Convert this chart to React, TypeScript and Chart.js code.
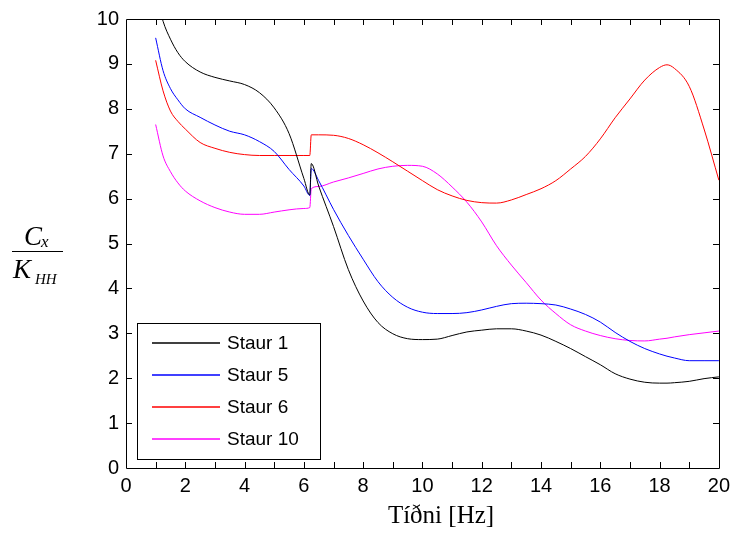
import React, { useEffect, useRef } from "react";
import { Chart, registerables } from "chart.js";

Chart.register(...registerables);

const freq = [1, 1.25, 1.5, 1.75, 2, 2.5, 3, 3.5, 4, 4.5, 5, 5.5, 6, 6.2, 6.25, 6.5, 7, 7.5, 8, 8.5, 9, 9.5, 10, 10.5, 11, 11.5, 12, 12.5, 13, 13.5, 14, 14.5, 15, 15.5, 16, 16.5, 17, 17.5, 18, 18.25, 18.5, 19, 19.5, 20];

const staur1 = [10.6, 9.95, 9.55, 9.25, 9.05, 8.82, 8.7, 8.62, 8.54, 8.36, 8.02, 7.45, 6.45, 6.08, 6.78, 6.28, 5.38, 4.42, 3.72, 3.24, 2.99, 2.88, 2.86, 2.87, 2.95, 3.03, 3.07, 3.1, 3.1, 3.05, 2.96, 2.82, 2.66, 2.48, 2.3, 2.1, 1.98, 1.91, 1.89, 1.89, 1.9, 1.93, 1.99, 2.03];
const staur5 = [9.58, 8.85, 8.45, 8.2, 8.0, 7.81, 7.64, 7.5, 7.42, 7.27, 7.05, 6.65, 6.28, 6.07, 6.67, 6.4, 5.76, 5.18, 4.65, 4.15, 3.8, 3.58, 3.47, 3.44, 3.44, 3.46, 3.52, 3.6, 3.66, 3.67, 3.66, 3.63, 3.54, 3.42, 3.25, 3.02, 2.82, 2.66, 2.54, 2.49, 2.45, 2.39, 2.39, 2.39];
const staur6 = [9.08, 8.4, 7.95, 7.72, 7.55, 7.25, 7.12, 7.03, 6.98, 6.96, 6.96, 6.96, 6.96, 6.96, 7.42, 7.42, 7.41, 7.34, 7.2, 7.02, 6.82, 6.61, 6.4, 6.2, 6.06, 5.96, 5.91, 5.9, 5.97, 6.09, 6.22, 6.4, 6.66, 6.94, 7.33, 7.8, 8.22, 8.64, 8.92, 8.98, 8.9, 8.5, 7.55, 6.41];
const staur10 = [7.65, 6.95, 6.6, 6.35, 6.17, 5.95, 5.8, 5.7, 5.65, 5.65, 5.7, 5.75, 5.78, 5.8, 6.22, 6.27, 6.37, 6.46, 6.56, 6.66, 6.72, 6.74, 6.72, 6.55, 6.26, 5.92, 5.48, 4.95, 4.52, 4.13, 3.74, 3.44, 3.19, 3.05, 2.95, 2.88, 2.84, 2.83, 2.87, 2.89, 2.92, 2.97, 3.01, 3.05];

const seriesNames = ["Staur 1", "Staur 5", "Staur 6", "Staur 10"];
const seriesColors = ["#000000", "#0000ff", "#ff0000", "#ff00ff"];
const seriesValues = [staur1, staur5, staur6, staur10];

const xTitle = "Tíðni [Hz]";

const SANS = '"Liberation Sans", Arial, sans-serif';
const SERIF = '"Liberation Serif", "Times New Roman", serif';

const framePlugin = {
  id: "framePlugin",
  afterDraw(chart: any) {
    const ctx = chart.ctx;
    const { left, right, top, bottom } = chart.chartArea;
    const xs = chart.scales.x;
    const ys = chart.scales.y;
    ctx.save();
    ctx.strokeStyle = "#000";
    ctx.lineWidth = 1;
    ctx.beginPath();
    ctx.rect(Math.round(left) + 0.5, Math.round(top) + 0.5, Math.round(right) - Math.round(left), Math.round(bottom) - Math.round(top));
    ctx.stroke();
    const tl = 6;
    ctx.beginPath();
    for (let v = 1; v < 20; v++) {
      const px = Math.round(xs.getPixelForValue(v)) + 0.5;
      ctx.moveTo(px, Math.round(bottom));
      ctx.lineTo(px, Math.round(bottom) - tl);
      ctx.moveTo(px, Math.round(top));
      ctx.lineTo(px, Math.round(top) + tl);
    }
    for (let v = 1; v < 10; v++) {
      const py = Math.round(ys.getPixelForValue(v)) + 0.5;
      ctx.moveTo(Math.round(left), py);
      ctx.lineTo(Math.round(left) + tl, py);
      ctx.moveTo(Math.round(right), py);
      ctx.lineTo(Math.round(right) - tl, py);
    }
    ctx.stroke();

    // legend
    const lx = 137.5, ly = 323.5, lw = 183, lh = 136;
    ctx.fillStyle = "#fff";
    ctx.fillRect(lx, ly, lw, lh);
    ctx.strokeStyle = "#000";
    ctx.strokeRect(lx, ly, lw, lh);
    ctx.font = `19px ${SANS}`;
    ctx.textBaseline = "middle";
    ctx.textAlign = "left";
    chart.data.datasets.forEach((ds: any, i: number) => {
      const cy = Math.round(342.5 + i * 32.2);
      ctx.strokeStyle = ds.borderColor;
      ctx.lineWidth = 1.3;
      ctx.beginPath();
      ctx.moveTo(152, cy);
      ctx.lineTo(220, cy);
      ctx.stroke();
      ctx.fillStyle = "#000";
      ctx.fillText(ds.label, 227, cy + 1);
    });

    // x title
    ctx.fillStyle = "#000";
    ctx.textAlign = "center";
    ctx.textBaseline = "alphabetic";
    ctx.font = `25px ${SERIF}`;
    ctx.fillText(xTitle, 441, 523);

    // y label fraction
    ctx.textAlign = "left";
    ctx.font = `italic 27px ${SERIF}`;
    ctx.fillText("C", 24, 245);
    ctx.fillText("K", 13, 278);
    ctx.font = `italic 17px ${SERIF}`;
    ctx.fillText("x", 41, 247);
    ctx.font = `italic 15px ${SERIF}`;
    ctx.fillText("HH", 35, 284);
    ctx.lineWidth = 1;
    ctx.strokeStyle = "#000";
    ctx.beginPath();
    ctx.moveTo(12, 251.5);
    ctx.lineTo(63, 251.5);
    ctx.stroke();
    ctx.restore();
  },
};

export default function App() {
  const ref = useRef<HTMLCanvasElement | null>(null);
  useEffect(() => {
    if (!ref.current) return;
    const chart = new Chart(ref.current, {
      type: "line",
      data: {
        datasets: seriesValues.map((vals, i) => ({
          label: seriesNames[i],
          data: freq.map((f, j) => ({ x: f, y: vals[j] })),
          borderColor: seriesColors[i],
          backgroundColor: seriesColors[i],
          borderWidth: 1,
          pointRadius: 0,
          cubicInterpolationMode: "monotone",
          fill: false,
        })),
      },
      options: {
        responsive: false,
        animation: false,
        layout: { padding: { top: 19, right: 14, left: 0, bottom: 0 } },
        plugins: { legend: { display: false }, tooltip: { enabled: false } },
        scales: {
          x: {
            type: "linear",
            min: 0,
            max: 20,
            grid: { display: false, drawTicks: false },
            border: { display: false },
            ticks: { stepSize: 2, padding: 6, color: "#000", font: { family: SANS, size: 20 }, maxRotation: 0 },
            afterFit: (s: any) => { s.height = 65; },
          },
          y: {
            type: "linear",
            min: 0,
            max: 10,
            grid: { display: false, drawTicks: false },
            border: { display: false },
            ticks: { stepSize: 1, padding: 7, color: "#000", font: { family: SANS, size: 20 } },
            afterFit: (s: any) => { s.width = 126; },
          },
        },
      },
      plugins: [framePlugin],
    });
    return () => chart.destroy();
  }, []);
  return (
    <div style={{ position: "absolute", left: 0, top: 0, width: 736, height: 533, background: "#fff" }}>
      <canvas ref={ref} width={736} height={533} style={{ display: "block" }} />
    </div>
  );
}
